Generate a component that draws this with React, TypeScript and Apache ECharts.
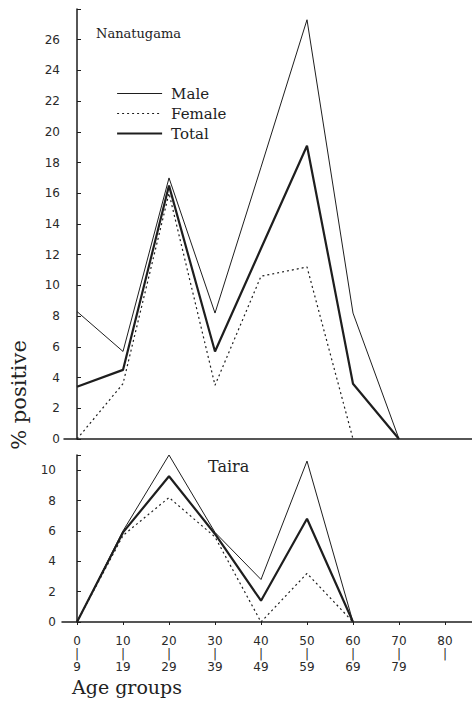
import React, { useEffect, useRef } from "react";
import * as echarts from "echarts";

// Age groups (lower bound of each 10-year group) and their tick labels
const ageStarts = [0, 10, 20, 30, 40, 50, 60, 70, 80];
const ageLabels = ["0\n|\n9", "10\n|\n19", "20\n|\n29", "30\n|\n39", "40\n|\n49", "50\n|\n59", "60\n|\n69", "70\n|\n79", "80\n|"];

// Nanatugama (% positive)
const nanaAges = [0, 10, 20, 30, 40, 50, 60, 70];
const nanaMale = [8.3, 5.7, 17.0, 8.2, 17.7, 27.3, 8.2, 0];
const nanaFemale = [0, 3.6, 16.0, 3.5, 10.6, 11.2, 0];
const nanaTotal = [3.4, 4.5, 16.5, 5.7, 12.4, 19.1, 3.6, 0];

// Taira (% positive)
const tairaAges = [0, 10, 20, 30, 40, 50, 60];
const tairaMale = [0, 6.0, 11.0, 5.9, 2.8, 10.6, 0];
const tairaFemale = [0, 5.7, 8.2, 5.6, 0, 3.2, 0];
const tairaTotal = [0, 5.9, 9.6, 5.8, 1.4, 6.8, 0];

const seriesNames = ["Male", "Female", "Total"];

const INK = "#1e1e1e";
const PX_PER_YEAR = 4.6;
const X0 = 77; // pixel of age 0
const W = 472;

const zip = (xs: number[], ys: number[]) => ys.map((y, i) => [xs[i], y]);

export default function App() {
  const ref = useRef<HTMLDivElement>(null);
  useEffect(() => {
    if (!ref.current) return;
    const chart = echarts.init(ref.current, null, { renderer: "svg" });
    const topLeft = 64;
    const botLeft = 62;
    const xRange = (left: number) => ({
      min: -(X0 - left) / PX_PER_YEAR,
      max: (W - X0) / PX_PER_YEAR,
    });
    const yLabel = (margin: number) => ({
      fontFamily: "DejaVu Sans",
      fontSize: 12,
      color: "#2a2a2a",
      margin,
    });
    const styles = [
      { color: INK, width: 1, type: "solid" as any },
      { color: INK, width: 1.2, type: [2, 3] as any },
      { color: INK, width: 2.2, type: "solid" as any },
    ];
    const mk = (name: string, idx: number, data: number[][], styleIdx: number) => ({
      name,
      type: "line",
      xAxisIndex: idx,
      yAxisIndex: idx,
      data,
      symbol: "none",
      lineStyle: styles[styleIdx],
      itemStyle: { color: INK },
      z: 3,
    });
    chart.setOption({
      animation: false,
      backgroundColor: "#ffffff",
      grid: [
        { left: topLeft, right: 0, top: 9, height: 430 },
        { left: botLeft, right: 0, top: 455, height: 167 },
      ],
      xAxis: [
        {
          type: "value",
          gridIndex: 0,
          ...xRange(topLeft),
          axisLine: { lineStyle: { color: INK, width: 1.5 } },
          axisTick: { show: false },
          axisLabel: { show: false },
          splitLine: { show: false },
        },
        {
          type: "value",
          gridIndex: 1,
          ...xRange(botLeft),
          axisLine: { lineStyle: { color: INK, width: 1.5 } },
          axisTick: { show: true, length: 3, customValues: ageStarts, lineStyle: { color: INK } },
          axisLabel: {
            customValues: ageStarts,
            formatter: (v: number) => ageLabels[ageStarts.indexOf(Math.round(v))] ?? "",
            fontFamily: "DejaVu Sans",
            fontSize: 12,
            lineHeight: 13,
            color: "#2a2a2a",
            margin: 12,
            align: "center",
            verticalAlign: "top",
          },
          splitLine: { show: false },
        },
      ],
      yAxis: [
        {
          type: "value",
          gridIndex: 0,
          min: 0,
          max: 28,
          interval: 2,
          axisLine: { show: true, lineStyle: { color: INK, width: 1.5 } },
          axisTick: { show: true, inside: true, length: 4, lineStyle: { color: INK } },
          axisLabel: { ...yLabel(4), formatter: (v: number) => (v >= 28 ? "" : String(v)) },
          splitLine: { show: false },
        },
        {
          type: "value",
          gridIndex: 1,
          min: 0,
          max: 11,
          interval: 2,
          axisLine: { show: true, lineStyle: { color: INK, width: 1.5 } },
          axisTick: { show: true, inside: true, length: 4, lineStyle: { color: INK } },
          axisLabel: { ...yLabel(6), formatter: (v: number) => (v > 10 ? "" : String(v)) },
          splitLine: { show: false },
        },
      ],
      legend: {
        orient: "vertical",
        left: 111,
        top: 81,
        itemWidth: 45,
        itemHeight: 14,
        itemGap: 5,
        selectedMode: false,
        data: seriesNames.map((name, i) => ({
          name,
          lineStyle: { width: styles[i].width, type: styles[i].type, color: INK },
        })),
        itemStyle: { opacity: 0 },
        textStyle: {
          fontFamily: "DejaVu Serif",
          fontSize: 15,
          color: "#222",
          padding: [0, 0, 0, 4],
        },
      },
      graphic: [
        {
          type: "text",
          left: 96,
          top: 27,
          style: { text: "Nanatugama", fontFamily: "DejaVu Serif", fontSize: 13, fill: "#222" },
        },
        {
          type: "text",
          left: 208,
          top: 458,
          style: { text: "Taira", fontFamily: "DejaVu Serif", fontSize: 16, fill: "#222" },
        },
        {
          type: "text",
          x: 19,
          y: 395,
          rotation: Math.PI / 2,
          style: {
            text: "% positive",
            fontFamily: "DejaVu Serif",
            fontSize: 21,
            fill: "#222",
            align: "center",
            verticalAlign: "middle",
          },
        },
        {
          type: "text",
          left: 72,
          top: 677,
          style: { text: "Age groups", fontFamily: "DejaVu Serif", fontSize: 19, fill: "#222" },
        },
      ],
      series: [
        mk("Male", 0, zip(nanaAges, nanaMale), 0),
        mk("Female", 0, zip(nanaAges, nanaFemale), 1),
        mk("Total", 0, zip(nanaAges, nanaTotal), 2),
        mk("Male", 1, zip(tairaAges, tairaMale), 0),
        mk("Female", 1, zip(tairaAges, tairaFemale), 1),
        mk("Total", 1, zip(tairaAges, tairaTotal), 2),
      ],
    });
    return () => chart.dispose();
  }, []);
  return (
    <div
      ref={ref}
      style={{ position: "absolute", left: 0, top: 0, width: 472, height: 706 }}
    />
  );
}
